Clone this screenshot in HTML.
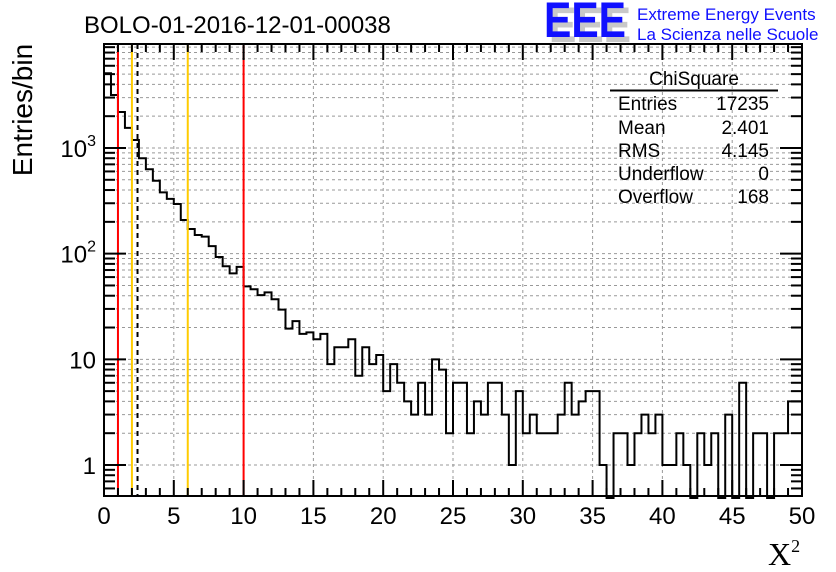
<!DOCTYPE html>
<html><head><meta charset="utf-8"><style>
body{margin:0;background:#fff;}
svg{display:block;font-family:"Liberation Sans",sans-serif;}
</style></head><body>
<svg id="c" width="836" height="572" xmlns="http://www.w3.org/2000/svg">
<text x="84" y="33" font-size="24">BOLO-01-2016-12-01-00038</text>
<g>
<text x="549" y="42" font-size="50" font-weight="bold" fill="#c8c8c8" textLength="82" lengthAdjust="spacingAndGlyphs">EEE</text>
<text x="544" y="37" font-size="50" font-weight="bold" fill="#1010ff" textLength="82" lengthAdjust="spacingAndGlyphs">EEE</text>
<text x="637" y="20" font-size="17" fill="#1010ff">Extreme Energy Events</text>
<text x="637" y="40" font-size="17" fill="#1010ff">La Scienza nelle Scuole</text>
</g>
<g id="grid"></g>
<g id="marks"></g>
<g id="axes"></g>
<g font-size="19">
<text x="694" y="85" text-anchor="middle">ChiSquare</text>
<line x1="610" y1="90.5" x2="778" y2="90.5" stroke="#000" stroke-width="2"/>
<text x="618" y="110">Entries</text><text x="769" y="110" text-anchor="end">17235</text>
<text x="618" y="134">Mean</text><text x="769" y="134" text-anchor="end">2.401</text>
<text x="618" y="157">RMS</text><text x="769" y="157" text-anchor="end">4.145</text>
<text x="618" y="180">Underflow</text><text x="769" y="180" text-anchor="end">0</text>
<text x="618" y="203">Overflow</text><text x="769" y="203" text-anchor="end">168</text>
</g>
<text transform="translate(32,110) rotate(-90)" font-size="28" text-anchor="middle">Entries/bin</text>
<text x="768" y="565" font-size="32" font-family="Liberation Serif,serif">X<tspan font-size="18" dy="-13">2</tspan></text>
</svg>
<script>
const counts=[5100,3170,2190,1550,1190,800,630,490,380,330,295,208,171,150,145,118,93,76,65,75,49,46,40.5,43,37,29.5,19.5,23,17.4,18,15.5,17.4,9,13,13,15.5,7,13,9,11,5,9,6,4,3,6,3,10,8,2,6,6,2,4,3,6,6,3,1,5,2,3,2,2,2,3,6,3,4,5,5,1,0,2,2,1,2,3,2,3,1,1,2,1,0,2,1,2,0,3,0,6,0,2,2,0,2,2,4,4];
const xTicks=[0,5,10,15,20,25,30,35,40,45,50];
const yTickBase=["1","10","10","10"];
const yTickExp=["","","2","3"];
const cutLines=[{x:1,c:"#ff0000",d:""},{x:2,c:"#ffcc00",d:""},{x:2.401,c:"#000",d:"5,4"},{x:6,c:"#ffcc00",d:""},{x:10,c:"#ff0000",d:""}];
const binW=0.5;
const X0=104,X1=802,Y0=496,Y1=44;
const NS="http://www.w3.org/2000/svg";
function sx(v){return X0+(X1-X0)*v/50;}
function sy(v){if(v<=0)return Y0+2;return Math.min(Y0+2,465-105.67*Math.log10(v));}
function mk(t,a,p){const e=document.createElementNS(NS,t);for(const k in a)e.setAttribute(k,a[k]);p.appendChild(e);return e;}
const grid=document.getElementById('grid'),marks=document.getElementById('marks'),axes=document.getElementById('axes');
xTicks.forEach(t=>{if(t>0&&t<50){const g=mk('line',{x1:sx(t),x2:sx(t),y1:Y1,y2:Y0,stroke:'#999','stroke-dasharray':'3,3'},grid);

}});
for(let d=0;d<4;d++)for(let m=1;m<10;m++){const v=m*Math.pow(10,d);const y=sy(v);if(y>Y1&&y<Y0){const g=mk('line',{x1:X0,x2:X1,y1:y,y2:y,stroke:'#999','stroke-dasharray':'3,3'},grid);

}}
let d="";counts.forEach((c,i)=>{const xa=sx(i*binW),xb=sx((i+1)*binW),y=sy(c);d+=(i==0?"M"+xa+","+y:"L"+xa+","+y)+"L"+xb+","+y;});
const h=mk('path',{d:d,fill:'none',stroke:'#000','stroke-width':2},marks);


cutLines.forEach(l=>{const e=mk('line',{x1:sx(l.x),x2:sx(l.x),y1:Y1,y2:Y0,stroke:l.c,'stroke-width':2,'stroke-dasharray':l.d},marks);

});
const f=mk('rect',{x:X0,y:Y1,width:X1-X0,height:Y0-Y1,fill:'none',stroke:'#000','stroke-width':2},axes);


for(let t=0;t<=50;t++){const L=t%5==0?16:8;mk('line',{x1:sx(t),x2:sx(t),y1:Y0,y2:Y0-L,stroke:'#000','stroke-width':2},axes);mk('line',{x1:sx(t),x2:sx(t),y1:Y1,y2:Y1+L,stroke:'#000','stroke-width':2},axes);}
xTicks.forEach(t=>{const e=mk('text',{x:sx(t),y:524,'font-size':24,'text-anchor':'middle'},axes);e.textContent=t;

});
for(let d2=-1;d2<4;d2++)for(let m=1;m<10;m++){const v=m*Math.pow(10,d2);const y=sy(v);if(y>Y1&&y<Y0){const L=m==1?22:11;mk('line',{x1:X0,x2:X0+L,y1:y,y2:y,stroke:'#000','stroke-width':2},axes);mk('line',{x1:X1,x2:X1-L,y1:y,y2:y,stroke:'#000','stroke-width':2},axes);}}
yTickBase.forEach((s,i)=>{const e=mk('text',{x:96,y:sy(Math.pow(10,i))+9,'font-size':24,'text-anchor':'end'},axes);


e.appendChild(document.createTextNode(s));
if(yTickExp[i]){const ts=mk('tspan',{'font-size':16,dy:-11},e);ts.textContent=yTickExp[i];}});
</script>
</body></html>
